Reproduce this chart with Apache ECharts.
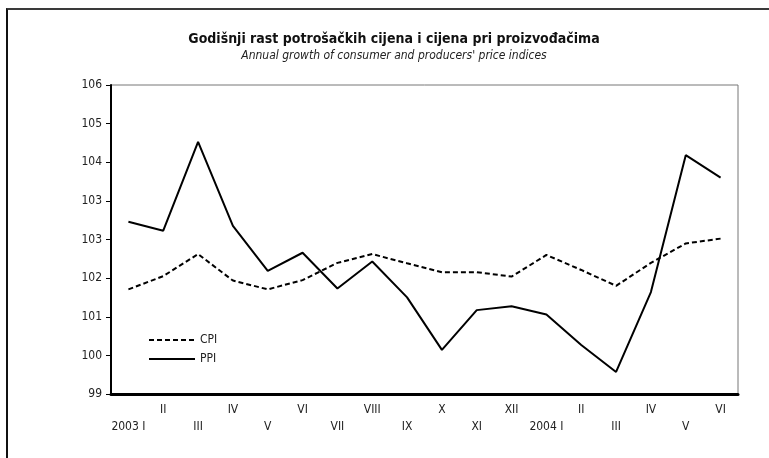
<!DOCTYPE html>
<html>
<head>
<meta charset="utf-8">
<script src="https://cdn.jsdelivr.net/npm/echarts@6/dist/echarts.min.js"></script>
<style>
    html, body{
        margin: 0;
        padding: 0;
        background: #fff;
    }
    #wrap{
        position: relative;
        width: 769px;
        height: 458px;
    }
    #frame{
        position: absolute;
        left: 6px;
        top: 8px;
        right: 0;
        bottom: 0;
        border-top: 2px solid #3a3a3a;
        border-left: 2px solid #111;
    }
    #chart{
        position: absolute;
        left: 0;
        top: 0;
        width: 769px;
        height: 458px;
    }
</style>
</head>
<body>
<div id="wrap">
    <div id="frame"></div>
    <div id="chart"></div>
</div>
<script>
    var months = ['2003 I', 'II', 'III', 'IV', 'V', 'VI', 'VII', 'VIII', 'IX', 'X', 'XI', 'XII',
                  '2004 I', 'II', 'III', 'IV', 'V', 'VI'];
    var cpi = [101.37, 101.67, 102.17, 101.57, 101.37, 101.58, 101.97, 102.17, 101.96,
               101.76, 101.76, 101.66, 102.15, 101.81, 101.45, 101.97, 102.41, 102.52];
    var ppi = [102.90, 102.70, 104.71, 102.81, 101.79, 102.20, 101.39, 102.00, 101.19,
               100.00, 100.90, 100.99, 100.80, 100.11, 99.50, 101.31, 104.41, 103.90];
    // tick labels as printed in the original (8 steps of 0.875, rounded)
    var yTicks = ['99', '100', '101', '102', '103', '103', '104', '105', '106'];

    var font = "'Liberation Sans Narrow', 'DejaVu Sans Condensed', sans-serif";
    var chart = echarts.init(document.getElementById('chart'));

    var option = {
        animation: false,
        title: {
            text: 'Godišnji rast potrošačkih cijena i cijena pri proizvođačima',
            subtext: "Annual growth of consumer and producers' price indices",
            left: 389,
            textAlign: 'center',
            top: 27,
            itemGap: 4,
            textStyle: {
                fontFamily: font,
                fontWeight: 'bold',
                fontSize: 14,
                color: '#111'
            },
            subtextStyle: {
                fontFamily: font,
                fontStyle: 'italic',
                fontSize: 12,
                color: '#222'
            }
        },
        legend: {
            orient: 'vertical',
            left: 143,
            top: 329,
            itemWidth: 46,
            itemHeight: 10,
            itemGap: 7,
            itemStyle: { opacity: 0 },
            textStyle: {
                fontFamily: font,
                fontSize: 12,
                color: '#222'
            },
            data: ['CPI', 'PPI']
        },
        grid: {
            left: 111,
            right: 31,
            top: 85,
            bottom: 64,
            show: true,
            borderColor: '#777',
            borderWidth: 1
        },
        xAxis: {
            type: 'category',
            data: months,
            boundaryGap: true,
            axisLine: {
                lineStyle: { color: '#000', width: 3 }
            },
            axisTick: { show: false },
            axisLabel: {
                interval: 0,
                margin: 7,
                fontFamily: font,
                fontSize: 12,
                color: '#222',
                lineHeight: 17,
                verticalAlign: 'top',
                formatter: function (v, i) {
                    return i % 2 === 0 ? '\n' + v : v;
                }
            }
        },
        yAxis: [
            {
                type: 'value',
                min: 99,
                max: 106,
                show: false,
                splitLine: { show: false }
            },
            {
                type: 'value',
                position: 'left',
                min: 0,
                max: yTicks.length - 1,
                interval: 1,
                axisLine: {
                    show: true,
                    lineStyle: { color: '#000', width: 2 }
                },
                axisTick: {
                    show: true,
                    length: 5,
                    lineStyle: { color: '#000' }
                },
                splitLine: { show: false },
                axisLabel: {
                    margin: 9,
                    fontFamily: font,
                    fontSize: 12,
                    color: '#222',
                    formatter: function (v) {
                        return yTicks[v];
                    }
                }
            }
        ],
        series: [
            {
                name: 'CPI',
                type: 'line',
                yAxisIndex: 0,
                data: cpi,
                symbol: 'none',
                color: '#000',
                lineStyle: { color: '#000', width: 2, type: [5, 3] }
            },
            {
                name: 'PPI',
                type: 'line',
                yAxisIndex: 0,
                data: ppi,
                symbol: 'none',
                color: '#000',
                lineStyle: { color: '#000', width: 2 }
            }
        ]
    };

    chart.setOption(option);
</script>
</body>
</html>
